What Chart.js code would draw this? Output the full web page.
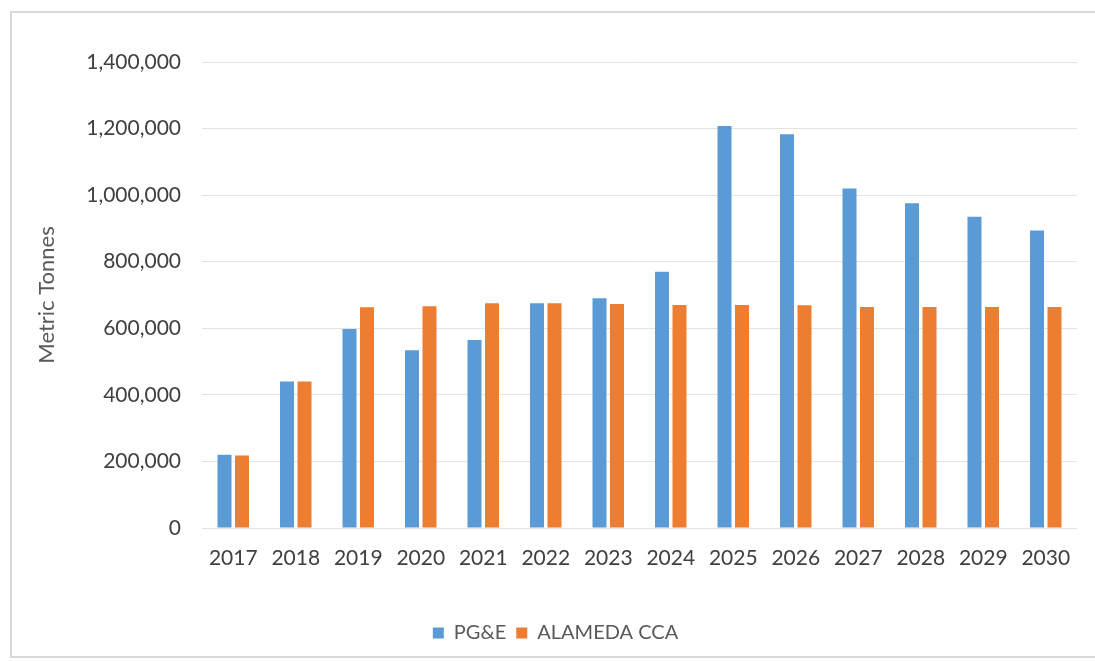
<!DOCTYPE html>
<html>
<head>
<meta charset="utf-8">
<script src="https://cdn.jsdelivr.net/npm/chart.js@4/dist/chart.umd.min.js"></script>
<style>
html,body{margin:0;padding:0;background:#fff;}
#wrap{width:1095px;height:661px;position:relative;}
</style>
</head>
<body>
<div id="wrap"><canvas id="c" width="1095" height="661"></canvas></div>
<script>
const years = ['2017','2018','2019','2020','2021','2022','2023','2024','2025','2026','2027','2028','2029','2030'];
const pgeValues = [220000, 440000, 598000, 534000, 565000, 675000, 690000, 770000, 1208000, 1183000, 1020000, 976000, 935000, 894000];
const alamedaValues = [218000, 440000, 663000, 666000, 675000, 675000, 673000, 670000, 670000, 669000, 664000, 664000, 664000, 664000];
const yTicks = [0, 200000, 400000, 600000, 800000, 1000000, 1200000, 1400000];
const seriesNames = ['PG&E', 'ALAMEDA CCA'];
const yTitle = 'Metric Tonnes';

const FONT = 'Lato, "Open Sans", sans-serif';

const framePlugin = {
  id: 'frame',
  beforeDraw(chart) {
    const ctx = chart.ctx;
    ctx.save();
    ctx.fillStyle = '#ffffff';
    ctx.fillRect(0, 0, chart.width, chart.height);
    ctx.strokeStyle = '#d9d9d9';
    ctx.lineWidth = 2;
    ctx.strokeRect(11, 12, chart.width + 20, 645);
    ctx.restore();
  }
};

new Chart(document.getElementById('c'), {
  type: 'bar',
  data: {
    labels: years,
    datasets: [
      { label: seriesNames[0], data: pgeValues, backgroundColor: '#5B9BD5', barPercentage: 0.8, categoryPercentage: 0.56 },
      { label: seriesNames[1], data: alamedaValues, backgroundColor: '#ED7D31', barPercentage: 0.8, categoryPercentage: 0.56 }
    ]
  },
  options: {
    responsive: false,
    animation: false,
    devicePixelRatio: 1,
    layout: { padding: { left: 34, right: 18, top: 62, bottom: 8 } },
    plugins: {
      legend: {
        position: 'bottom',
        labels: {
          boxWidth: 11, boxHeight: 11, padding: 10,
          color: '#595959',
          font: { family: FONT, size: 20 }
        }
      },
      tooltip: { enabled: false }
    },
    scales: {
      x: {
        grid: { display: false, drawTicks: false },
        border: { display: false },
        ticks: { color: '#404040', font: { family: FONT, size: 21 }, padding: 18, maxRotation: 0, autoSkip: false },
        afterFit(s) { s.height = 85; }
      },
      y: {
        min: 0, max: 1400000,
        afterBuildTicks(s) { s.ticks = yTicks.map(v => ({ value: v })); },
        grid: { color: '#e3e3e3', lineWidth: 1, drawTicks: false },
        border: { display: false },
        ticks: {
          color: '#404040', font: { family: FONT, size: 21 }, padding: 21,
          callback: v => v.toLocaleString('en-US')
        },
        title: { display: true, text: yTitle, color: '#595959', font: { family: FONT, size: 22 }, padding: 0 },
        afterFit(s) { s.width = 168; }
      }
    }
  },
  plugins: [framePlugin]
});
</script>
</body>
</html>
